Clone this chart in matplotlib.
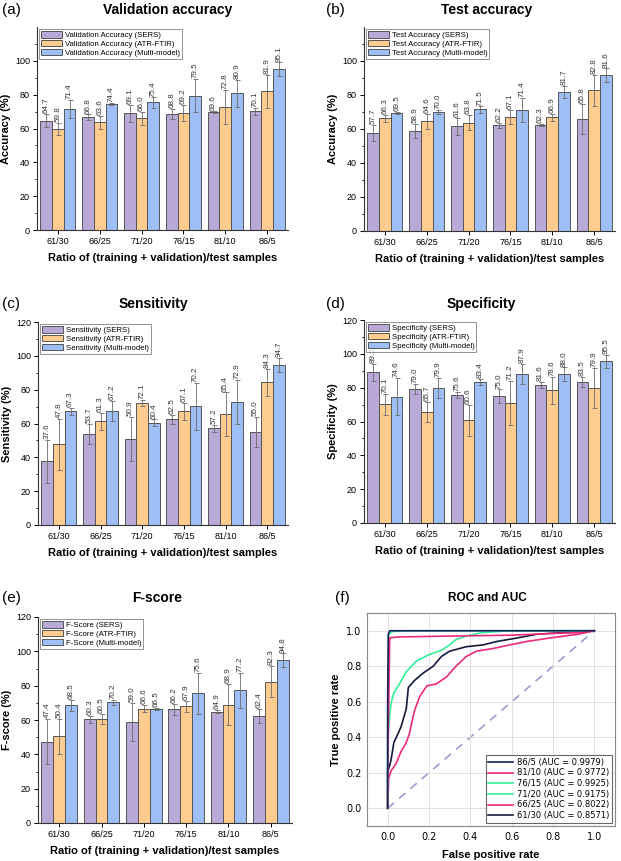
import numpy as np
import matplotlib.pyplot as plt

plt.rcParams['font.family'] = ['Liberation Sans', 'DejaVu Sans']

ratios = ['61/30', '66/25', '71/20', '76/15', '81/10', '86/5']
methods = ['SERS', 'ATR-FTIR', 'Multi-model']

# validation accuracy
val_sers = [64.7, 66.8, 69.1, 68.8, 69.6, 70.1]
val_atr = [59.8, 63.6, 66.0, 69.2, 72.8, 81.9]
val_multi = [71.4, 74.4, 75.4, 79.5, 80.9, 95.1]
val_sers_err = [4.0, 1.5, 5.0, 3.0, 0.5, 2.0]
val_atr_err = [3.6, 3.7, 4.0, 4.5, 10.0, 10.0]
val_multi_err = [5.4, 0.5, 3.0, 9.6, 8.0, 4.0]

# test accuracy
test_sers = [57.7, 58.9, 61.6, 62.2, 62.3, 65.8]
test_atr = [66.3, 64.6, 63.8, 67.1, 66.9, 82.8]
test_multi = [69.5, 70.0, 71.5, 71.4, 81.7, 91.6]
test_sers_err = [4.5, 4.0, 5.0, 1.5, 0.5, 9.0]
test_atr_err = [2.0, 4.5, 4.5, 4.0, 2.0, 9.0]
test_multi_err = [0.7, 1.0, 1.8, 7.0, 3.5, 4.0]

# sensitivity
sens_sers = [37.6, 53.7, 50.9, 62.5, 57.2, 55.0]
sens_atr = [47.8, 61.3, 72.1, 67.1, 65.4, 84.3]
sens_multi = [67.3, 67.2, 60.4, 70.2, 72.9, 94.7]
sens_sers_err = [12.5, 6.0, 13.0, 2.5, 2.0, 9.0]
sens_atr_err = [15.0, 5.0, 2.0, 5.0, 13.0, 8.0]
sens_multi_err = [2.0, 6.0, 2.0, 14.0, 13.0, 4.0]

# specificity
spec_sers = [89.2, 79.0, 75.6, 75.0, 81.6, 83.5]
spec_atr = [70.1, 65.7, 60.6, 71.2, 78.6, 79.9]
spec_multi = [74.6, 79.9, 83.4, 87.9, 88.0, 95.5]
spec_sers_err = [5.0, 3.0, 2.0, 4.0, 2.0, 3.0]
spec_atr_err = [6.0, 6.0, 9.0, 13.0, 8.0, 12.0]
spec_multi_err = [11.0, 6.0, 2.0, 6.0, 4.0, 4.0]

# f-score
f_sers = [47.4, 60.3, 59.0, 66.2, 64.9, 62.4]
f_atr = [50.4, 60.5, 66.6, 67.9, 68.9, 82.3]
f_multi = [68.5, 70.2, 66.5, 75.6, 77.2, 94.8]
f_sers_err = [13.0, 2.0, 11.0, 3.0, 1.0, 4.0]
f_atr_err = [10.0, 3.0, 2.0, 3.0, 12.0, 9.0]
f_multi_err = [3.0, 1.5, 0.5, 12.0, 10.0, 4.0]

# ROC curves
roc_labels = ['86/5 (AUC = 0.9979)', '81/10 (AUC = 0.9772)', '76/15 (AUC = 0.9925)',
              '71/20 (AUC = 0.9175)', '66/25 (AUC = 0.8022)', '61/30 (AUC = 0.8571)']
roc_86_fpr = [0.0, 0.0, 0.003, 0.01, 0.25, 1.0]
roc_86_tpr = [0.0, 0.6, 0.98, 1.0, 1.0, 1.0]
roc_81_fpr = [0.0, 0.0, 0.004, 0.01, 0.05, 0.3, 0.6, 0.8, 0.95, 1.0]
roc_81_tpr = [0.0, 0.2, 0.5, 0.96, 0.965, 0.97, 0.975, 0.985, 0.99, 1.0]
roc_76_fpr = [0.0, 0.0, 0.005, 0.02, 0.1, 1.0]
roc_76_tpr = [0.0, 0.5, 0.98, 0.995, 1.0, 1.0]
roc_71_fpr = [0.0, 0.0, 0.008, 0.016, 0.03, 0.057, 0.09, 0.14, 0.2, 0.26, 0.30, 0.33, 0.38, 0.46, 0.59, 1.0]
roc_71_tpr = [0.0, 0.37, 0.5, 0.59, 0.65, 0.70, 0.77, 0.83, 0.865, 0.89, 0.92, 0.95, 0.97, 0.99, 1.0, 1.0]
roc_66_fpr = [0.0, 0.005, 0.016, 0.04, 0.065, 0.09, 0.105, 0.12, 0.13, 0.155, 0.19, 0.235, 0.285,
              0.33, 0.38, 0.43, 0.51, 0.59, 0.675, 0.79, 0.92, 1.0]
roc_66_tpr = [0.0, 0.17, 0.21, 0.25, 0.32, 0.37, 0.42, 0.50, 0.55, 0.63, 0.69, 0.70, 0.74,
              0.80, 0.855, 0.885, 0.90, 0.92, 0.94, 0.96, 0.98, 1.0]
roc_61_fpr = [0.0, 0.0, 0.016, 0.03, 0.05, 0.065, 0.09, 0.1, 0.13, 0.17, 0.22, 0.26, 0.30,
              0.38, 0.46, 0.53, 0.63, 0.72, 0.85, 1.0]
roc_61_tpr = [0.0, 0.2, 0.27, 0.37, 0.42, 0.46, 0.56, 0.68, 0.72, 0.76, 0.80, 0.855, 0.885,
              0.91, 0.92, 0.94, 0.96, 0.98, 0.99, 1.0]

colors = ['#B9A9D6', '#FFCC8F', '#9EBFF5']
edge = '#555555'

W, H = 621, 861
fig = plt.figure(figsize=(W / 100, H / 100), dpi=100)


def px_axes(l, t, r, b):
    return fig.add_axes([l / W, 1 - b / H, (r - l) / W, (b - t) / H])


def bar_panel(ax, name, ylabel, series, errs, top_tick):
    x = np.arange(len(ratios))
    w = 0.28
    for i, (vals, err) in enumerate(zip(series, errs)):
        pos = x + (i - 1) * w
        ax.bar(pos, vals, w, color=colors[i], edgecolor=edge, linewidth=0.7,
               label=f'{name} ({methods[i]})', zorder=2)
        ax.errorbar(pos, vals, yerr=err, fmt='none', ecolor='#6a6a6a',
                    elinewidth=0.6, capsize=1.8, capthick=0.6, zorder=3)
        for p, v, e in zip(pos, vals, err):
            ax.text(p, v + e + 0.5, f'{v:.1f}', rotation=90, ha='center', va='bottom',
                    fontsize=5.8, color='#333333', zorder=4)
    ax.set_xlim(-0.5, 5.5)
    ax.set_ylim(0, 120)
    ax.set_xticks(x)
    ax.set_xticklabels(ratios)
    ax.set_yticks(np.arange(0, top_tick + 1, 20))
    ax.set_yticks(np.arange(10, 120, 20), minor=True)
    ax.tick_params(axis='both', which='major', direction='out', length=3, width=0.7,
                   labelsize=6.5, pad=2)
    ax.tick_params(axis='y', which='minor', direction='out', length=1.8, width=0.6)
    for s in ['top', 'right']:
        ax.spines[s].set_visible(False)
    for s in ['left', 'bottom']:
        ax.spines[s].set_linewidth(0.8)
        ax.spines[s].set_color('#333333')
    ax.set_xlabel('Ratio of (training + validation)/test samples', fontsize=8,
                  fontweight='bold', labelpad=5)
    ax.set_ylabel(ylabel, fontsize=8, fontweight='bold', labelpad=3)
    leg = ax.legend(loc='upper left', fontsize=5.6, frameon=True, fancybox=False,
                    borderpad=0.25, labelspacing=0.1, handlelength=2.6, handleheight=0.9,
                    handletextpad=0.4, borderaxespad=0.3)
    leg.get_frame().set_edgecolor('#777777')
    leg.get_frame().set_linewidth(0.7)


def panel_titles(letter, title, lx, cx, y):
    fig.text(lx / W, 1 - y / H, letter, fontsize=11, ha='left', va='center')
    fig.text(cx / W, 1 - y / H, title, fontsize=10, fontweight='bold', ha='center', va='center')


ax_a = px_axes(37, 27, 288, 230)
bar_panel(ax_a, 'Validation Accuracy', 'Accuracy (%)', [val_sers, val_atr, val_multi],
          [val_sers_err, val_atr_err, val_multi_err], 100)
panel_titles('(a)', 'Validation accuracy', 2, 168, 10)

ax_b = px_axes(364, 27, 615, 231)
bar_panel(ax_b, 'Test Accuracy', 'Accuracy (%)', [test_sers, test_atr, test_multi],
          [test_sers_err, test_atr_err, test_multi_err], 100)
panel_titles('(b)', 'Test accuracy', 326, 487, 10)

ax_c = px_axes(38, 322, 288, 525)
bar_panel(ax_c, 'Sensitivity', 'Sensitivity (%)', [sens_sers, sens_atr, sens_multi],
          [sens_sers_err, sens_atr_err, sens_multi_err], 120)
panel_titles('(c)', 'Sensitivity', 2, 153, 304)

ax_d = px_axes(364, 320, 615, 523)
bar_panel(ax_d, 'Specificity', 'Specificity (%)', [spec_sers, spec_atr, spec_multi],
          [spec_sers_err, spec_atr_err, spec_multi_err], 120)
panel_titles('(d)', 'Specificity', 326, 481, 304)

ax_e = px_axes(38, 617, 292, 823)
bar_panel(ax_e, 'F-Score', 'F-score (%)', [f_sers, f_atr, f_multi],
          [f_sers_err, f_atr_err, f_multi_err], 120)
panel_titles('(e)', 'F-score', 2, 157, 598)

# ROC panel
ax_f = px_axes(367, 613, 615, 826)
roc_fpr = [roc_86_fpr, roc_81_fpr, roc_76_fpr, roc_71_fpr, roc_66_fpr, roc_61_fpr]
roc_tpr = [roc_86_tpr, roc_81_tpr, roc_76_tpr, roc_71_tpr, roc_66_tpr, roc_61_tpr]
roc_colors = ['#1B1F5C', '#EE2A7B', '#2EF29A', '#33EE99', '#EE2A7B', '#141A3C']
roc_styles = ['-', '-', '-', '-', '-', '-']
ax_f.plot([0, 1], [0, 1], linestyle=(0, (5, 4)), color='#9C9CD0', lw=1.2, zorder=1)
for fx, ty, c, ls, lab in list(zip(roc_fpr, roc_tpr, roc_colors, roc_styles, roc_labels))[::-1]:
    ax_f.plot(fx, ty, color=c, lw=1.2, ls=ls, label=lab, zorder=2)
handles, labels = ax_f.get_legend_handles_labels()
ax_f.set_xlim(-0.1, 1.1)
ax_f.set_ylim(-0.1, 1.1)
ax_f.set_xticks(np.arange(0, 1.01, 0.2))
ax_f.set_yticks(np.arange(0, 1.01, 0.2))
ax_f.grid(True, color='#E2DADF', lw=0.6)
ax_f.tick_params(length=0, labelsize=7, pad=4)
for lab in ax_f.get_xticklabels() + ax_f.get_yticklabels():
    lab.set_family('DejaVu Sans')
for s in ax_f.spines.values():
    s.set_color('#888888')
    s.set_linewidth(0.8)
ax_f.set_xlabel('False positive rate', fontsize=8, fontweight='bold', labelpad=6)
ax_f.set_ylabel('True positive rate', fontsize=8, fontweight='bold', labelpad=4)
leg = ax_f.legend(handles[::-1], labels[::-1], loc='lower right', prop={'family': 'DejaVu Sans', 'size': 6},
                  frameon=True, fancybox=False, borderpad=0.3, labelspacing=0.2,
                  handlelength=3.0, handletextpad=0.4, borderaxespad=0.4)
leg.get_frame().set_edgecolor('#444444')
leg.get_frame().set_linewidth(0.8)
panel_titles('(f)', '', 335, 487, 598)
fig.text(487 / W, 1 - 598 / H, 'ROC and AUC', fontsize=8.5, fontweight='bold', ha='center', va='center')

fig.savefig('out.png', dpi=100)
